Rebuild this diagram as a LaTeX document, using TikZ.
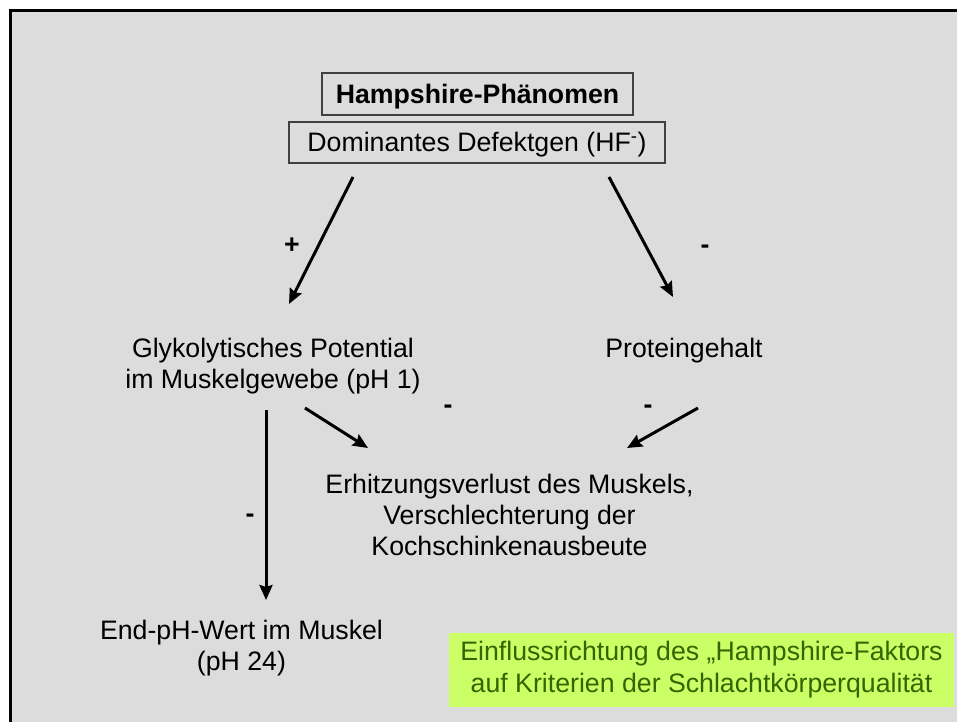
\documentclass[tikz,border=0pt]{standalone}
\usepackage{fontspec}
\setmainfont{Liberation Sans}
\usetikzlibrary{arrows.meta}
\definecolor{bggray}{HTML}{DCDCDC}
\definecolor{limefill}{HTML}{CCFF66}
\definecolor{darkgreentext}{HTML}{336600}
\definecolor{boxline}{HTML}{404040}
\begin{document}
\begin{tikzpicture}[x=1pt,y=-1pt,
  txt/.style={font=\fontsize{26.7}{31}\selectfont, align=center, inner sep=0pt},
  boxed/.style={txt, draw=boxline, line width=1.5pt, fill=bggray, text height=19pt, text depth=0pt},
  sign/.style={font=\fontsize{26.7}{31}\selectfont\bfseries, inner sep=0pt},
  arr/.style={line width=3pt, -{Stealth[length=15pt,width=13pt,inset=2pt]}}]
\useasboundingbox (0,0) rectangle (957,722);
\fill[white] (0,0) rectangle (957,722);
\fill[bggray] (10.5,10.5) rectangle (957,722);
\draw[line width=3pt] (10.5,722) -- (10.5,10.5) -- (957,10.5);

\node[boxed, minimum width=311pt, minimum height=42pt] (hamp) at (477.5,94) {\textbf{Hampshire-Phänomen}};
\node[boxed, minimum width=376pt, minimum height=41pt] (dom) at (477,142.5) {Dominantes Defektgen (HF\textsuperscript{-})};

\node[txt, anchor=base] (glyk) at (273,388) {Glykolytisches Potential\\im Muskelgewebe (pH 1)};
\node[txt, anchor=base] (prot) at (684,357) {Proteingehalt};
\node[txt, anchor=base] (erh) at (509.5,555) {Erhitzungsverlust des Muskels,\\Verschlechterung der\\Kochschinkenausbeute};
\node[txt, anchor=base] (endph) at (241.5,670) {End-pH-Wert im Muskel\\(pH 24)};
\node[txt, fill=limefill, text=darkgreentext, minimum width=505pt, minimum height=74pt, font=\fontsize{26.7}{32}\selectfont] (note) at (701.5,670) {Einflussrichtung des „Hampshire-Faktors\\auf Kriterien der Schlachtkörperqualität};

\coordinate (a1s) at (353,177);
\coordinate (a1e) at (289,304);
\coordinate (a2s) at (609,177);
\coordinate (a2e) at (673,297);
\coordinate (a3s) at (266,410);
\coordinate (a3e) at (266,600);
\coordinate (a4s) at (305,408);
\coordinate (a4e) at (368,448);
\coordinate (a5s) at (698,408);
\coordinate (a5e) at (627,448);

\draw[arr] (a1s) -- (a1e);
\draw[arr] (a2s) -- (a2e);
\draw[arr] (a3s) -- (a3e);
\draw[arr] (a4s) -- (a4e);
\draw[arr] (a5s) -- (a5e);

\node[sign] (p1) at (292,246) {+};
\node[sign] (m1) at (705,249) {-};
\node[sign] (m2) at (448,409) {-};
\node[sign] (m3) at (648,409) {-};
\node[sign] (m4) at (250,518) {-};
\end{tikzpicture}
\end{document}
